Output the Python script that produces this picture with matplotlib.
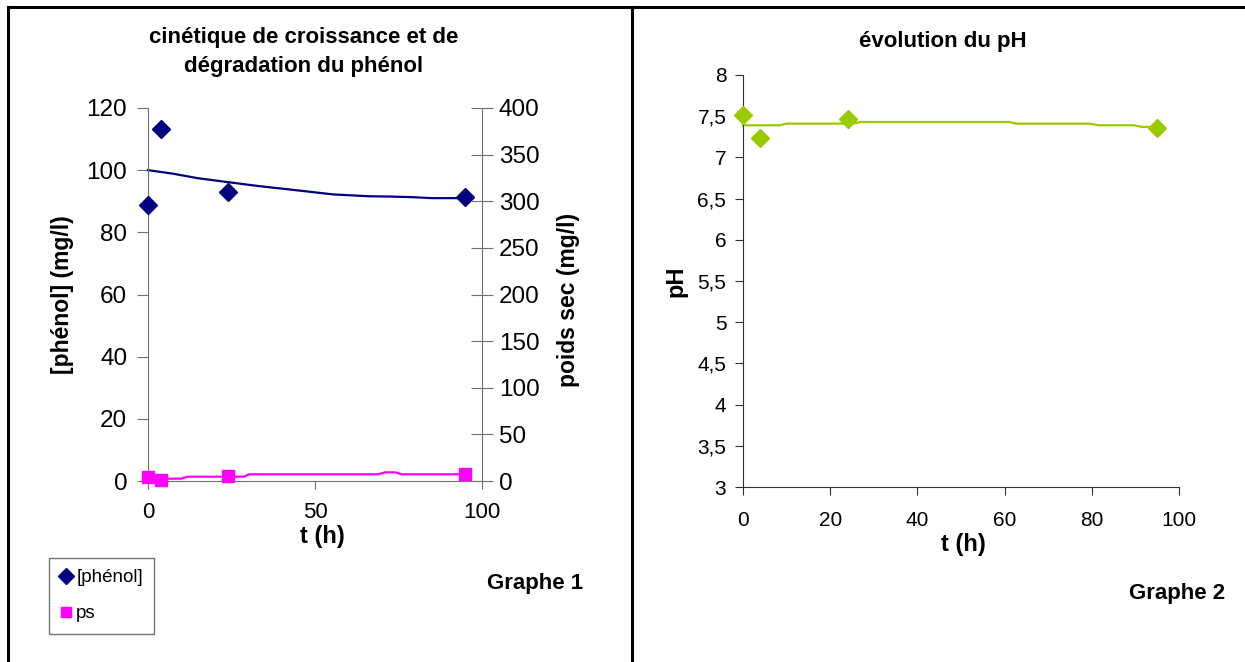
"""Phenol degradation and pH follow-up, two Excel-style panels side by side."""
import matplotlib
matplotlib.use("Agg")
import matplotlib.pyplot as plt
from matplotlib.lines import Line2D
from matplotlib.ticker import FuncFormatter

plt.rcParams["font.family"] = ["Liberation Sans", "DejaVu Sans"]

# Measured points
T_MEAS = [0, 4, 24, 95]
PHENOL = [88.9, 113.4, 92.9, 91.5]
PS = [3.9, 1.1, 5.7, 7.9]
PH = [7.51, 7.24, 7.46, 7.36]

# Trend curves
PHENOL_FIT_T = [0, 7.3, 15, 24.3, 33, 42.3, 55.4, 66.4, 73, 79.4, 85, 95]
PHENOL_FIT = [100, 98.9, 97.4, 96.1, 94.9, 93.8, 92.2, 91.6, 91.5, 91.3, 91.0, 91.0]
PS_FIT_T = [0, 10, 11.8, 28.8, 30.3, 68.9, 71, 74, 76, 95]
PS_FIT = [2.5, 2.5, 4.6, 4.6, 7.2, 7.2, 9.3, 9.3, 7.2, 7.2]
PH_FIT_T = [0, 8.3, 10, 25.4, 27, 61, 62.7, 79.3, 81.6, 89.7, 91.5, 95]
PH_FIT = [7.39, 7.39, 7.41, 7.41, 7.43, 7.43, 7.41, 7.41, 7.39, 7.39, 7.37, 7.37]

NAVY = "#000080"
MAGENTA = "#FF00FF"
GREEN = "#99CC00"

W, H = 1245, 662
fig = plt.figure(figsize=(W / 100, H / 100), dpi=100)


def fx(px):
    return px / W


def fy(py):
    return 1 - py / H


def label(x, y, s, size, rot=0, **kw):
    fig.text(fx(x), fy(y), s, fontsize=size, fontweight="bold", rotation=rot,
             ha="center", va="center", **kw)


# page frame: top edge, left edge and the divider between the two charts
for xs, ys in [([8, W], [7, 7]), ([8, 8], [7, H]), ([632, 632], [7, H])]:
    fig.add_artist(Line2D([fx(x) for x in xs], [fy(y) for y in ys],
                          color="black", lw=2.2, transform=fig.transFigure))

# ---- Graphe 1 : phenol + dry weight ----
ax = fig.add_axes([fx(148), fy(481), fx(482 - 148), (481 - 108) / H])
ax.plot(PHENOL_FIT_T, PHENOL_FIT, color=NAVY, lw=1.6, clip_on=False)
ax.plot(T_MEAS, PHENOL, "D", color=NAVY, ms=9, clip_on=False,
        label="[phénol]", zorder=5)
ax.set_xlim(0, 100)
ax.set_ylim(0, 120)
ax.set_xticks([0, 50, 100])
ax.set_yticks(range(0, 121, 20))
for s in ["top", "right"]:
    ax.spines[s].set_visible(False)
for s in ["left", "bottom"]:
    ax.spines[s].set_color("#707070")
ax.tick_params(axis="y", colors="#707070", labelcolor="black",
               labelsize=17.5, length=8, pad=7)
ax.tick_params(axis="x", colors="#707070", labelcolor="black",
               labelsize=16, length=6, pad=9)

ax2 = ax.twinx()
ax2.plot(PS_FIT_T, PS_FIT, color=MAGENTA, lw=1.6, clip_on=False)
ax2.plot(T_MEAS, PS, "s", color=MAGENTA, ms=8, clip_on=False,
         label="ps", zorder=5)
ax2.set_ylim(0, 400)
ax2.set_yticks(range(0, 401, 50))
for s in ["top", "left", "bottom"]:
    ax2.spines[s].set_visible(False)
ax2.spines["right"].set_color("#707070")
ax2.tick_params(axis="y", colors="#707070", labelcolor="black",
                labelsize=17.5, length=16, direction="inout", pad=4)

label(304, 52, "cinétique de croissance et de\ndégradation du phénol", 16,
      linespacing=1.45)
label(62, 295, "[phénol] (mg/l)", 16.5, rot=90)
label(569, 300, "poids sec (mg/l)", 16.5, rot=90)
label(322, 536, "t (h)", 17)

handles = ax.get_legend_handles_labels()[0] + ax2.get_legend_handles_labels()[0]
fig.legend(handles, ["[phénol]", "ps"], loc="upper left",
           bbox_to_anchor=(fx(49), fy(558)), fontsize=13.5, frameon=True,
           fancybox=False, edgecolor="#505050", handlelength=0.6,
           handletextpad=0.25, labelspacing=1.0, borderpad=0.6,
           borderaxespad=0, markerscale=0.95)

fig.text(fx(583), fy(583), "Graphe 1", fontsize=16, fontweight="bold",
         ha="right", va="center")

# ---- Graphe 2 : pH ----
bx = fig.add_axes([fx(743), fy(487), fx(1179 - 743), (487 - 75) / H])
bx.plot(PH_FIT_T, PH_FIT, color=GREEN, lw=1.6, clip_on=False)
bx.plot(T_MEAS, PH, "D", color=GREEN, ms=9, clip_on=False, zorder=5)
bx.set_xlim(0, 100)
bx.set_ylim(3, 8)
bx.set_xticks(range(0, 101, 20))
bx.set_yticks([3 + 0.5 * i for i in range(11)])
bx.yaxis.set_major_formatter(
    FuncFormatter(lambda v, _: f"{v:g}".replace(".", ",")))
for s in ["top", "right"]:
    bx.spines[s].set_visible(False)
for s in ["left", "bottom"]:
    bx.spines[s].set_color("#303030")
bx.tick_params(axis="y", colors="#303030", labelcolor="black",
               labelsize=15, length=6, pad=6)
bx.tick_params(axis="x", colors="#303030", labelcolor="black",
               labelsize=15, length=6, pad=11)

label(943, 42, "évolution du pH", 16)
label(676, 281, "pH", 17, rot=90)
label(963, 544, "t (h)", 17)

fig.text(fx(1225), fy(593), "Graphe 2", fontsize=16, fontweight="bold",
         ha="right", va="center")

fig.savefig("out.png", dpi=100, facecolor="white")
